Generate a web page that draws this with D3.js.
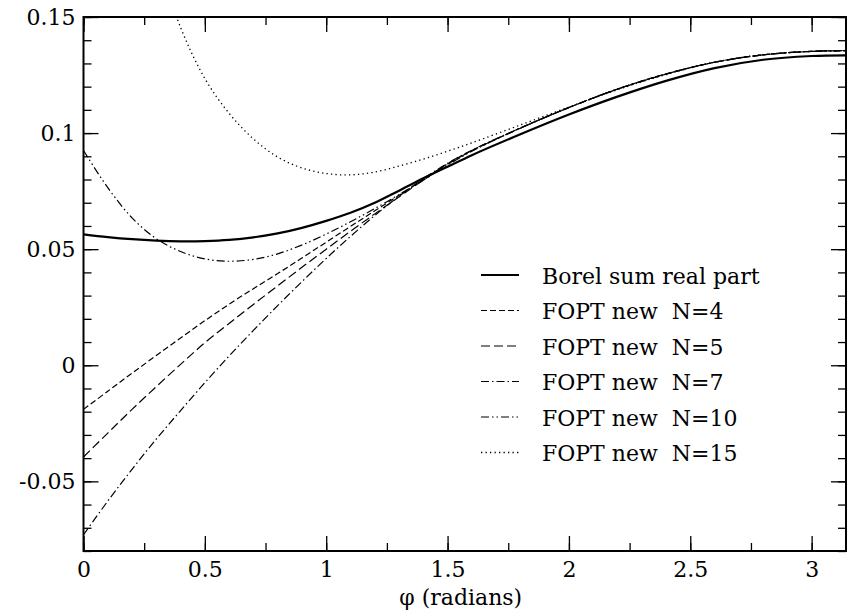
<!DOCTYPE html>
<html>
<head>
<meta charset="utf-8">
<script src="https://cdn.jsdelivr.net/npm/d3@7"></script>
<style>
  body { margin: 0; background: #fff; }
</style>
</head>
<body>
<svg id="chart"></svg>
<script>
// phi grid (radians)
const phi = [0, 0.1, 0.2, 0.3, 0.4, 0.5, 0.6, 0.7, 0.8, 0.9, 1.0, 1.1, 1.2, 1.3, 1.4,
  1.5, 1.6, 1.8, 2.0, 2.2, 2.4, 2.6, 2.8, 3.0, Math.PI];

const borel = [0.0564, 0.0552, 0.0543, 0.0537, 0.0534, 0.0535, 0.0540, 0.0551, 0.0568, 0.0592,
  0.0622, 0.0657, 0.0700, 0.0752, 0.0805, 0.0855, 0.0905, 0.0995, 0.1080, 0.1157,
  0.1225, 0.1280, 0.1316, 0.1332, 0.1335];
const foptN4 = [-0.0190, -0.0112, -0.0034, 0.0042, 0.0117, 0.0192, 0.0263, 0.0330, 0.0395, 0.0462,
  0.0530, 0.0598, 0.0665, 0.0732, 0.0800, 0.0868, 0.0925, 0.1022, 0.1110, 0.1190,
  0.1255, 0.1305, 0.1337, 0.1352, 0.1355];
const foptN5 = [-0.0395, -0.0292, -0.0190, -0.0092, 0.0004, 0.0097, 0.0180, 0.0262, 0.0342, 0.0422,
  0.0500, 0.0577, 0.0652, 0.0725, 0.0797, 0.0866, 0.0924, 0.1021, 0.1110, 0.1189,
  0.1254, 0.1305, 0.1337, 0.1352, 0.1355];
const foptN7 = [-0.0730, -0.0585, -0.0448, -0.0318, -0.0195, -0.0075, 0.0040, 0.0150, 0.0257, 0.0360,
  0.0460, 0.0555, 0.0645, 0.0728, 0.0803, 0.0870, 0.0926, 0.1022, 0.1110, 0.1189,
  0.1254, 0.1305, 0.1337, 0.1352, 0.1355];
const foptN10 = [0.0925, 0.0765, 0.0635, 0.0545, 0.0490, 0.0458, 0.0448, 0.0456, 0.0480, 0.0518,
  0.0565, 0.0618, 0.0675, 0.0735, 0.0797, 0.0862, 0.0922, 0.1021, 0.1110, 0.1190,
  0.1255, 0.1305, 0.1337, 0.1352, 0.1355];
const foptN15 = [null, null, null, 0.1765, 0.1455, 0.1235, 0.1085, 0.0975, 0.0897, 0.0850,
  0.0826, 0.0820, 0.0832, 0.0858, 0.0888, 0.0922, 0.0958, 0.1035, 0.1112, 0.1187,
  0.1252, 0.1305, 0.1338, 0.1352, 0.1355];

const seriesLabels = ['Borel sum real part', 'FOPT new  N=4', 'FOPT new  N=5',
  'FOPT new  N=7', 'FOPT new  N=10', 'FOPT new  N=15'];
const xTicks = [0, 0.5, 1, 1.5, 2, 2.5, 3];
const yTicks = [-0.05, 0, 0.05, 0.1, 0.15];

const width = 852, height = 612;
const margin = { top: 17, right: 6, bottom: 61, left: 83.5 };
const serif = 'DejaVu Serif';

const svg = d3.select('#chart').attr('width', width).attr('height', height);

const x = d3.scaleLinear().domain([0, Math.PI]).range([margin.left, width - margin.right]);
const y = d3.scaleLinear().domain([-0.08, 0.15]).range([height - margin.bottom, margin.top]);

// plain hyphen for negatives, like the original
const fmt = d => String(d);

// clip to the plot area
svg.append('clipPath').attr('id', 'clip')
  .append('rect')
  .attr('x', x(0)).attr('y', y(0.15))
  .attr('width', x(Math.PI) - x(0)).attr('height', y(-0.08) - y(0.15));

const series = [borel, foptN4, foptN5, foptN7, foptN10, foptN15];
const styles = [
  { w: 2.2, dash: null },
  { w: 1.2, dash: '6,3' },
  { w: 1.2, dash: '9,4' },
  { w: 1.2, dash: '8,3,1.5,3' },
  { w: 1.2, dash: '8,3,1.5,3,1.5,3' },
  { w: 1.3, dash: '1.3,3.2' }
];

const line = d3.line()
  .defined(d => d[1] !== null)
  .x(d => x(d[0]))
  .y(d => y(d[1]))
  .curve(d3.curveCatmullRom.alpha(0.5));

const plot = svg.append('g').attr('clip-path', 'url(#clip)');
series.forEach((vals, i) => {
  plot.append('path')
    .datum(phi.map((p, j) => [p, vals[j]]))
    .attr('fill', 'none')
    .attr('stroke', '#000')
    .attr('stroke-width', styles[i].w)
    .attr('stroke-dasharray', styles[i].dash)
    .attr('d', line);
});

// axes: major + minor ticks on all four sides, pointing inward
const xMinor = d3.range(0, 3.01, 0.25);
const yMinor = d3.range(-0.08, 0.1501, 0.01).map(v => +v.toFixed(2));

svg.append('g')
  .attr('transform', `translate(0,${y(-0.08)})`)
  .call(d3.axisBottom(x).tickValues(xMinor).tickSize(-8).tickFormat(''));
svg.append('g')
  .attr('transform', `translate(0,${y(-0.08)})`)
  .call(d3.axisBottom(x).tickValues(xTicks).tickSize(-15).tickPadding(10).tickFormat(fmt));
svg.append('g')
  .attr('transform', `translate(0,${y(0.15)})`)
  .call(d3.axisTop(x).tickValues(xMinor).tickSize(-8).tickFormat(''));
svg.append('g')
  .attr('transform', `translate(0,${y(0.15)})`)
  .call(d3.axisTop(x).tickValues(xTicks).tickSize(-15).tickFormat(''));

svg.append('g')
  .attr('transform', `translate(${x(0)},0)`)
  .call(d3.axisLeft(y).tickValues(yMinor).tickSize(-8).tickFormat(''));
svg.append('g')
  .attr('transform', `translate(${x(0)},0)`)
  .call(d3.axisLeft(y).tickValues(yTicks).tickSize(-15).tickPadding(8).tickFormat(fmt));
svg.append('g')
  .attr('transform', `translate(${x(Math.PI)},0)`)
  .call(d3.axisRight(y).tickValues(yMinor).tickSize(-8).tickFormat(''));
svg.append('g')
  .attr('transform', `translate(${x(Math.PI)},0)`)
  .call(d3.axisRight(y).tickValues(yTicks).tickSize(-15).tickFormat(''));

svg.selectAll('.domain').remove();
svg.selectAll('.tick line').attr('stroke', '#000').attr('stroke-width', 1.3);
svg.selectAll('g[font-family]').attr('font-family', serif);
svg.selectAll('.tick text')
  .attr('font-family', serif)
  .attr('font-size', 22)
  .attr('fill', '#000');

// frame
svg.append('rect')
  .attr('x', x(0)).attr('y', y(0.15))
  .attr('width', x(Math.PI) - x(0)).attr('height', y(-0.08) - y(0.15))
  .attr('fill', 'none').attr('stroke', '#000').attr('stroke-width', 2);

// x axis title
svg.append('text')
  .attr('x', (x(0) + x(Math.PI)) / 2 - 4)
  .attr('y', 605)
  .attr('text-anchor', 'middle')
  .attr('font-family', serif)
  .attr('font-size', 22)
  .text('φ (radians)');

// legend
const legend = svg.append('g');
seriesLabels.forEach((lab, i) => {
  const ly = 275 + i * 35.5;
  legend.append('line')
    .attr('x1', 481).attr('x2', 519)
    .attr('y1', ly).attr('y2', ly)
    .attr('stroke', '#000')
    .attr('stroke-width', styles[i].w)
    .attr('stroke-dasharray', styles[i].dash);
  legend.append('text')
    .attr('x', 542).attr('y', ly + 8.5)
    .attr('font-family', serif)
    .attr('font-size', 22)
    .attr('xml:space', 'preserve')
    .style('white-space', 'pre')
    .text(lab);
});
</script>
</body>
</html>
